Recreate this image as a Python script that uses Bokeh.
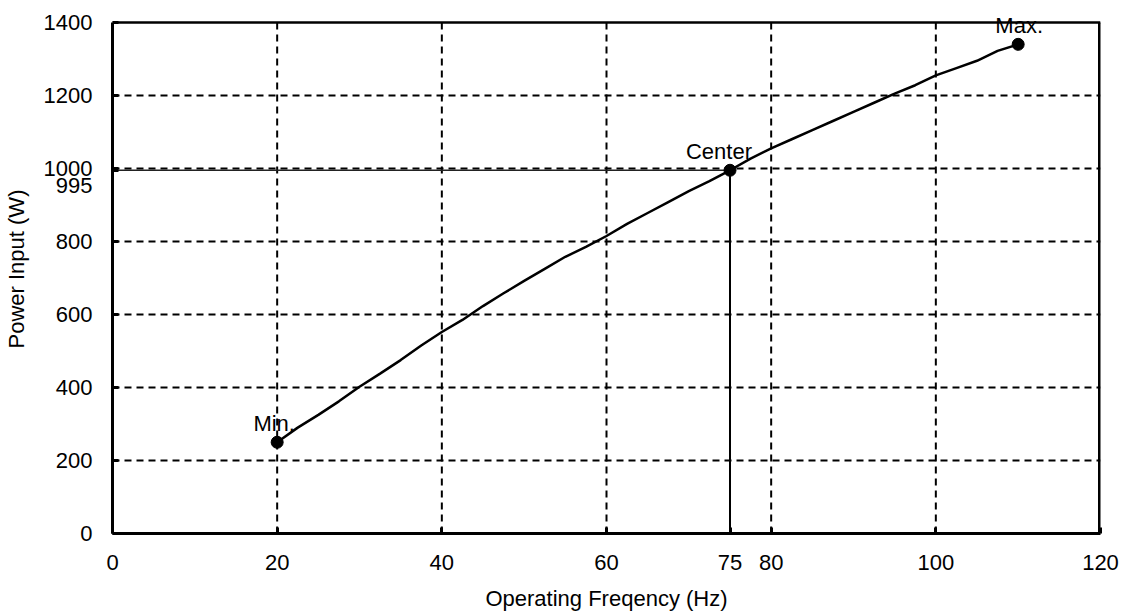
from bokeh.plotting import figure
from bokeh.models import Range1d, FixedTicker, ColumnDataSource, LabelSet
from bokeh.core.properties import value
from bokeh.embed import file_html
from bokeh.resources import INLINE

# ---- data ----
freq = [20, 22.5, 25, 27.5, 30, 32.5, 35, 37.5, 40, 42.5, 45, 47.5, 50, 52.5, 55,
        57.5, 60, 62.5, 65, 67.5, 70, 72.5, 75, 77.5, 80, 82.5, 85, 87.5, 90,
        92.5, 95, 97.5, 100, 102.5, 105, 107.5, 110]
power = [250, 290, 325, 362, 402, 438, 475, 515, 552, 585, 623, 658, 692, 725, 758,
         785, 815, 848, 878, 908, 938, 965, 995, 1027, 1055, 1080, 1105, 1130, 1155,
         1180, 1205, 1228, 1255, 1275, 1295, 1322, 1340]
mark_names = ["Min.", "Center", "Max."]
mark_freq = [20, 75, 110]
mark_power = [250, 995, 1340]
x_ticks = [0, 20, 40, 60, 75, 80, 100, 120]
y_ticks = [0, 200, 400, 600, 800, 1000, 1200, 1400]
x_grid = [20, 40, 60, 80, 100]
y_grid = [200, 400, 600, 800, 1000, 1200]
center_label = "995"

# ---- style / layout ----
FONT = "Liberation Sans"
FS = "22px"
label_dx = [-3, -11, 1]
FRAME_H = 513          # pixel height of the 0..1400 box
HEADROOM = 18          # extra unclipped room above the box for the "Max." label
DASH = "7 5"

x0, x1 = x_ticks[0], x_ticks[-1]
y0, y1 = y_ticks[0], y_ticks[-1]
y_top = y1 * (FRAME_H + HEADROOM) / FRAME_H

p = figure(width=1122, height=613, output_backend="svg", toolbar_location=None,
           x_range=Range1d(x0, x1), y_range=Range1d(y0, y_top),
           min_border_left=110, min_border_right=22, min_border_top=22 - HEADROOM,
           min_border_bottom=78)
p.background_fill_color = "white"
p.border_fill_color = "white"
p.outline_line_color = None

for ax in (p.xaxis[0], p.yaxis[0]):
    ax.axis_line_width = 3
    ax.axis_line_color = "black"
    ax.major_tick_in = 6
    ax.major_tick_out = 0
    ax.major_tick_line_width = 3
    ax.major_tick_line_color = "black"
    ax.minor_tick_line_color = None
    ax.major_label_text_font = FONT
    ax.major_label_text_font_size = FS
    ax.major_label_text_color = "black"
    ax.axis_label_text_font = FONT
    ax.axis_label_text_font_size = FS
    ax.axis_label_text_font_style = "normal"
    ax.axis_label_text_color = "black"

cx, cy = mark_freq[1], mark_power[1]

p.xaxis.ticker = FixedTicker(ticks=x_ticks)
p.yaxis.ticker = FixedTicker(ticks=y_ticks + [cy])
p.yaxis.bounds = (y0, y1)
p.yaxis.major_label_overrides = {cy: "\n" + center_label}
p.xaxis.axis_label = "Operating Freqency (Hz)"
p.yaxis.axis_label = "Power Input (W)"
p.xaxis.major_label_standoff = 21
p.yaxis.major_label_standoff = 20
p.xaxis.axis_label_standoff = 13
p.yaxis.axis_label_standoff = 12

# horizontal grid through the axis grid; vertical grid as segments limited to the box
p.xgrid.grid_line_color = None
p.ygrid.ticker = FixedTicker(ticks=y_grid)
p.ygrid.grid_line_color = "black"
p.ygrid.grid_line_width = 2
p.ygrid.grid_line_dash = DASH
p.ygrid.grid_line_alpha = 1
p.segment(x0=x_grid, y0=[y0] * len(x_grid), x1=x_grid, y1=[y1] * len(x_grid),
          line_color="black", line_width=2, line_dash=DASH)

# box top and right edges
p.line([x0, x1], [y1, y1], line_color="black", line_width=2.5)
p.line([x1, x1], [y0, y1], line_color="black", line_width=5)

# reference lines to the center point
p.line([x0, cx], [cy, cy], line_color="#222222", line_width=1.5)
p.line([cx, cx], [y0, cy], line_color="black", line_width=2)

# curve
p.line(freq, power, line_color="black", line_width=2.5)
p.scatter(mark_freq, mark_power, size=12, color="black")

src = ColumnDataSource(dict(x=mark_freq, y=mark_power, t=mark_names, dx=label_dx))
p.add_layout(LabelSet(x="x", y="y", text="t", source=src, text_align="center",
                      text_baseline="middle", y_offset=19, x_offset="dx",
                      text_font=value(FONT), text_font_size=value(FS), text_color="black"))

open("out.html", "w").write(file_html(p, INLINE))
